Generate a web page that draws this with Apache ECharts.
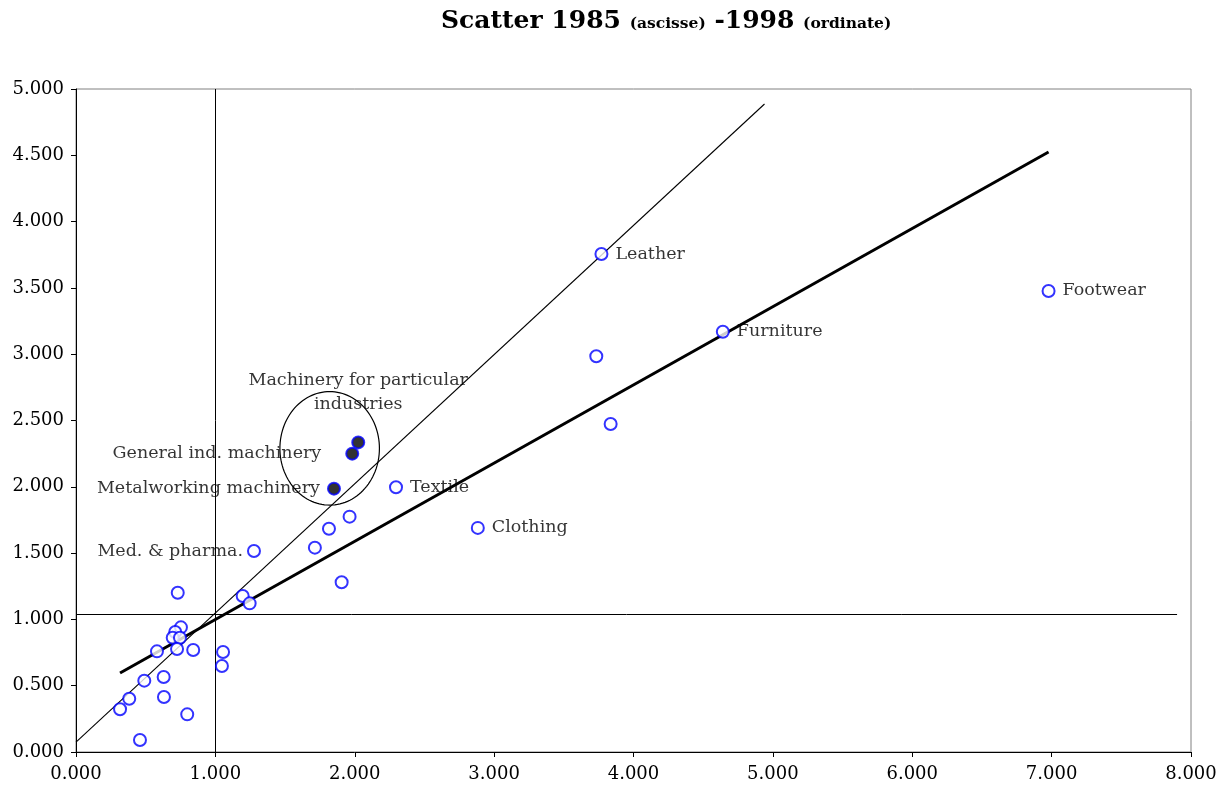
<!DOCTYPE html>
<html>
<head>
<meta charset="utf-8">
<script src="https://cdn.jsdelivr.net/npm/echarts@6/dist/echarts.min.js"></script>
<style>
html,body{margin:0;padding:0;background:#fff;}
#chart{width:1227px;height:795px;}
</style>
</head>
<body>
<div id="chart"></div>
<script>
// ---- Data ----
const labeledNames = ['Leather', 'Footwear', 'Furniture', 'Textile', 'Clothing', 'Med. & pharma.'];
const labeledX = [3.770, 6.978, 4.641, 2.296, 2.883, 1.277];
const labeledY = [3.756, 3.477, 3.169, 1.997, 1.690, 1.516];

const otherX = [3.733, 3.836, 1.963, 1.815, 1.714, 1.906, 1.196, 1.246, 0.730, 0.753, 0.712, 0.694, 0.746, 0.581, 0.725, 0.841, 1.055, 1.047, 0.490, 0.629, 0.382, 0.316, 0.631, 0.798, 0.459];
const otherY = [2.984, 2.474, 1.775, 1.684, 1.541, 1.280, 1.176, 1.121, 1.201, 0.940, 0.905, 0.862, 0.862, 0.759, 0.777, 0.769, 0.754, 0.649, 0.538, 0.566, 0.402, 0.322, 0.415, 0.284, 0.090];

const machNames = ['Machinery for particular\nindustries', 'General ind. machinery', 'Metalworking machinery'];
const machX = [2.025, 1.982, 1.851];
const machY = [2.335, 2.250, 1.986];

// regression line (thick) endpoints
const trendX = [0.316, 6.978];
const trendY = [0.596, 4.525];
// thin diagonal line endpoints
const diagX = [0.000, 4.940];
const diagY = [0.075, 4.887];
// reference cross lines
const refLineX = 1.000;
const refLineY = 1.041;
const refLineYEnd = 7.90;
// circled group: centre x, centre y, radius x, radius y (data units)
const ellipseData = [[1.820, 2.290, 0.357, 0.428]];

const xTickMin = 0, xTickMax = 8, xTickStep = 1;
const yTickMin = 0, yTickMax = 5, yTickStep = 0.5;

// ---- Chart ----
const FONT = 'DejaVu Serif';
const zip = (xs, ys) => xs.map((x, i) => [x, ys[i]]);

const labelSide = {
  'Leather': 'right', 'Footwear': 'right', 'Furniture': 'right', 'Textile': 'right',
  'Clothing': 'right', 'Med. & pharma.': 'left'
};
const machLabel = [
  { position: 'top', distance: 19, align: 'center', lineHeight: 24 },
  { position: 'left', distance: 24 },
  { position: 'left', distance: 7 }
];

const markerStyle = { color: '#ffffff', borderColor: '#0000ff', borderWidth: 2 };
const labelText = { fontFamily: FONT, fontSize: 17.5, color: '#000' };

const chart = echarts.init(document.getElementById('chart'), null, { renderer: 'canvas' });
chart.setOption({
  animation: false,
  backgroundColor: '#fff',
  title: {
    left: 436,
    top: 4,
    text: '{b|Scatter 1985 }{s|(ascisse)}{b| -1998 }{s|(ordinate)}',
    textStyle: {
      rich: {
        b: { fontFamily: FONT, fontWeight: 'bold', fontSize: 25, color: '#000' },
        s: { fontFamily: FONT, fontWeight: 'bold', fontSize: 15.5, color: '#000', padding: [5, 0, 0, 0] }
      }
    }
  },
  grid: {
    left: 76, right: 36, top: 89, bottom: 43,
    show: true, borderColor: '#808080', borderWidth: 1, backgroundColor: 'transparent'
  },
  xAxis: {
    type: 'value', min: xTickMin, max: xTickMax, interval: xTickStep,
    axisLine: { show: true, onZero: false, lineStyle: { color: '#000', width: 1 } },
    axisTick: { show: true, inside: false, length: 5, lineStyle: { color: '#000' } },
    splitLine: { show: false },
    axisLabel: { margin: 13, fontFamily: FONT, fontSize: 18, color: '#000', formatter: v => v.toFixed(3) }
  },
  yAxis: {
    type: 'value', min: yTickMin, max: yTickMax, interval: yTickStep,
    axisLine: { show: true, onZero: false, lineStyle: { color: '#000', width: 1 } },
    axisTick: { show: true, inside: false, length: 5, lineStyle: { color: '#000' } },
    splitLine: { show: false },
    axisLabel: { margin: 12, fontFamily: FONT, fontSize: 18, color: '#000', formatter: v => v.toFixed(3) }
  },
  series: [
    {
      type: 'line', data: zip(diagX, diagY), symbol: 'none', silent: true,
      lineStyle: { color: '#000', width: 1.1 }, z: 2,
      markLine: {
        silent: true, symbol: 'none', label: { show: false },
        lineStyle: { color: '#000', width: 1, type: 'solid' },
        data: [
          { xAxis: refLineX },
          [{ coord: [xTickMin, refLineY] }, { coord: [refLineYEnd, refLineY] }]
        ]
      }
    },
    {
      type: 'line', data: zip(trendX, trendY), symbol: 'none', silent: true,
      lineStyle: { color: '#000', width: 3 }, z: 2
    },
    {
      type: 'custom', silent: true, z: 2,
      data: ellipseData,
      renderItem: (params, api) => {
        const c = api.coord([api.value(0), api.value(1)]);
        const s = api.size([api.value(2), api.value(3)]);
        const pts = [];
        for (let i = 0; i < 120; i++) {
          const t = i / 120 * Math.PI * 2;
          pts.push([c[0] + s[0] * Math.cos(t), c[1] + s[1] * Math.sin(t)]);
        }
        return { type: 'polygon', shape: { points: pts }, style: { fill: 'none', stroke: '#000', lineWidth: 1.2 } };
      }
    },
    {
      type: 'scatter', symbol: 'circle', symbolSize: 12, z: 5,
      itemStyle: markerStyle,
      data: zip(otherX, otherY)
    },
    {
      type: 'scatter', symbol: 'circle', symbolSize: 12, z: 5,
      itemStyle: markerStyle,
      data: labeledNames.map((n, i) => ({
        name: n, value: [labeledX[i], labeledY[i]],
        label: { show: true, position: labelSide[n], distance: labelSide[n] === 'left' ? 4 : 7, formatter: '{b}', ...labelText }
      }))
    },
    {
      type: 'scatter', symbol: 'circle', symbolSize: 12, z: 5,
      itemStyle: { color: '#000', borderColor: '#0000ff', borderWidth: 2 },
      data: machNames.map((n, i) => ({
        name: n, value: [machX[i], machY[i]],
        label: { show: true, formatter: '{b}', ...labelText, ...machLabel[i] }
      }))
    }
  ]
});
</script>
</body>
</html>
